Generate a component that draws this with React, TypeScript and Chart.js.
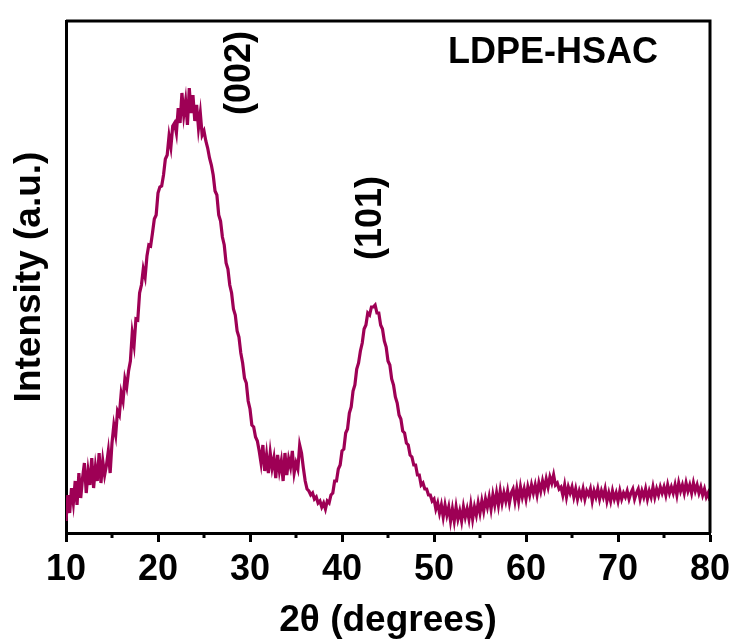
import React, { useEffect, useRef } from "react";
import { Chart, registerables } from "chart.js";

Chart.register(...registerables);

// 2θ sampling: 10.0° to 80.0°, 0.2° step
const startAngle = 10;
const stepAngle = 0.2;

const intensity: number[] = [
  12, 38, 20, 45, 30, // 10
  52, 28, 60, 35, 55, // 11
  70, 40, 62, 48, 75, // 12
  45, 66, 52, 80, 50, // 13
  72, 58, 68, 82, 60, // 14
  90, 108, 98, 122, 118, // 15
  140, 132, 154, 146, 162, // 16
  172, 200, 188, 214, 213, // 17
  240, 248, 264, 256, 277, // 18
  288, 287, 300, 314, 318, // 19
  340, 346, 347, 358, 374, // 20
  378, 397, 386, 407, 410, // 21
  400, 425, 410, 440, 418, // 22
  432, 408, 445, 420, 438, // 23
  412, 428, 405, 420, 398, // 24
  402, 392, 385, 375, 368, // 25
  358, 342, 338, 318, 312, // 26
  296, 288, 270, 264, 248, // 27
  240, 224, 218, 202, 196, // 28
  180, 170, 155, 150, 132, // 29
  124, 108, 106, 96, 92, // 30
  82, 70, 88, 62, 78, // 31
  60, 80, 65, 75, 55, // 32
  78, 62, 72, 52, 80, // 33
  58, 74, 66, 82, 60, // 34
  70, 64, 88, 80, 65, // 35
  52, 44, 42, 38, 40, // 36
  34, 36, 30, 32, 26, // 37
  30, 24, 32, 30, 38, // 38
  40, 52, 52, 64, 68, // 39
  82, 84, 100, 104, 120, // 40
  126, 142, 148, 164, 170, // 41
  182, 190, 204, 208, 220, // 42
  218, 226, 226, 228, 220, // 43
  220, 208, 204, 192, 186, // 44
  172, 168, 154, 148, 136, // 45
  130, 118, 114, 102, 100, // 46
  90, 88, 78, 76, 68, // 47
  68, 58, 58, 48, 50, // 48
  44, 44, 38, 38, 32, // 49
  34, 24, 30, 20, 28, // 50
  16, 28, 18, 26, 12, // 51
  24, 12, 26, 14, 22, // 52
  12, 26, 16, 24, 14, // 53
  28, 14, 26, 18, 30, // 54
  20, 32, 22, 34, 26, // 55
  36, 24, 38, 28, 40, // 56
  28, 42, 30, 40, 32, // 57
  42, 30, 40, 44, 32, // 58
  44, 32, 46, 36, 44, // 59
  34, 46, 38, 48, 40, // 60
  48, 38, 50, 42, 52, // 61
  44, 54, 46, 56, 50, // 62
  58, 48, 50, 44, 46, // 63
  38, 48, 36, 46, 40, // 64
  46, 36, 44, 34, 42, // 65
  36, 44, 34, 42, 38, // 66
  44, 32, 42, 36, 44, // 67
  34, 42, 36, 44, 32, // 68
  40, 32, 42, 34, 40, // 69
  32, 42, 34, 40, 36, // 70
  42, 34, 40, 44, 34, // 71
  40, 44, 34, 42, 36, // 72
  44, 34, 42, 36, 46, // 73
  36, 44, 38, 46, 40, // 74
  46, 38, 48, 40, 46, // 75
  40, 48, 38, 50, 42, // 76
  48, 40, 50, 42, 48, // 77
  40, 50, 42, 48, 40, // 78
  46, 38, 44, 36, 40, // 79
  32, // 80
];

const xTicks = [10, 20, 30, 40, 50, 60, 70, 80];
const xMinorTicks = [15, 25, 35, 45, 55, 65, 75];

const sampleName = "LDPE-HSAC";
const peakLabels = [
  { text: "(002)", at: 28.9, level: 460 },
  { text: "(101)", at: 43.2, level: 315 },
];

const xTitle = "2θ (degrees)";
const yTitle = "Intensity (a.u.)";

const FONT = '"Liberation Sans", Arial, Helvetica, sans-serif';
const LINE_COLOR = "#9E0055";

export default function App() {
  const canvasRef = useRef<HTMLCanvasElement | null>(null);

  useEffect(() => {
    const canvas = canvasRef.current;
    if (!canvas) return;

    const points = intensity.map((v, i) => ({
      x: Math.round((startAngle + i * stepAngle) * 10) / 10,
      y: v,
    }));

    const framePlugin = {
      id: "frameAndLabels",
      afterDraw(chart: any) {
        const { ctx, chartArea } = chart;
        const xs = chart.scales.x;
        const ys = chart.scales.y;
        ctx.save();
        ctx.strokeStyle = "#000";
        ctx.lineWidth = 3;
        ctx.beginPath();
        ctx.moveTo(chartArea.left, chartArea.top);
        ctx.lineTo(chartArea.right, chartArea.top);
        ctx.lineTo(chartArea.right, chartArea.bottom);
        ctx.stroke();
        for (const v of xMinorTicks) {
          const px = xs.getPixelForValue(v);
          ctx.beginPath();
          ctx.moveTo(px, chartArea.bottom);
          ctx.lineTo(px, chartArea.bottom + 5);
          ctx.stroke();
        }
        ctx.fillStyle = "#000";
        ctx.font = `bold 36px ${FONT}`;
        ctx.textAlign = "left";
        ctx.textBaseline = "alphabetic";
        ctx.fillText(sampleName, 448, 63);
        for (const p of peakLabels) {
          const px = xs.getPixelForValue(p.at);
          const py = ys.getPixelForValue(p.level);
          ctx.save();
          ctx.translate(px, py);
          ctx.rotate(-Math.PI / 2);
          ctx.textAlign = "center";
          ctx.textBaseline = "middle";
          ctx.font = `bold 36px ${FONT}`;
          ctx.fillText(p.text, 0, 0);
          ctx.restore();
        }
        ctx.restore();
      },
    };

    const chart = new Chart(canvas, {
      type: "line",
      data: {
        datasets: [
          {
            data: points,
            borderColor: LINE_COLOR,
            borderWidth: 3.2,
            pointRadius: 0,
            tension: 0,
            fill: false,
          },
        ],
      },
      options: {
        responsive: false,
        animation: false,
        layout: { padding: { top: 21, right: 27, left: 0, bottom: 0 } },
        plugins: {
          legend: { display: false },
          tooltip: { enabled: false },
        },
        scales: {
          x: {
            type: "linear",
            min: 10,
            max: 80,
            afterBuildTicks(scale: any) {
              scale.ticks = xTicks.map((v) => ({ value: v }));
            },
            afterFit(scale: any) {
              scale.height = 110;
            },
            ticks: {
              color: "#000",
              font: { family: FONT, size: 36, weight: "bold" },
              padding: 6,
              maxRotation: 0,
              autoSkip: false,
            },
            grid: {
              display: true,
              drawOnChartArea: false,
              drawTicks: true,
              tickLength: 9,
              tickWidth: 3,
              tickColor: "#000",
            },
            border: { display: true, color: "#000", width: 3 },
            title: {
              display: true,
              text: xTitle,
              color: "#000",
              font: { family: FONT, size: 37, weight: "bold" },
              padding: { top: 0, bottom: 0 },
            },
          },
          y: {
            type: "linear",
            min: 0,
            max: 512,
            afterFit(scale: any) {
              scale.width = 66;
            },
            ticks: { display: false },
            grid: { display: false, drawTicks: false },
            border: { display: true, color: "#000", width: 3 },
            title: {
              display: true,
              text: yTitle,
              color: "#000",
              font: { family: FONT, size: 37, weight: "bold" },
              padding: { top: 8, bottom: 0 },
            },
          },
        },
      },
      plugins: [framePlugin],
    });

    return () => {
      chart.destroy();
    };
  }, []);

  return (
    <div
      style={{
        position: "fixed",
        left: 0,
        top: 0,
        width: 737,
        height: 643,
        background: "#fff",
      }}
    >
      <canvas ref={canvasRef} width={737} height={643} />
    </div>
  );
}
